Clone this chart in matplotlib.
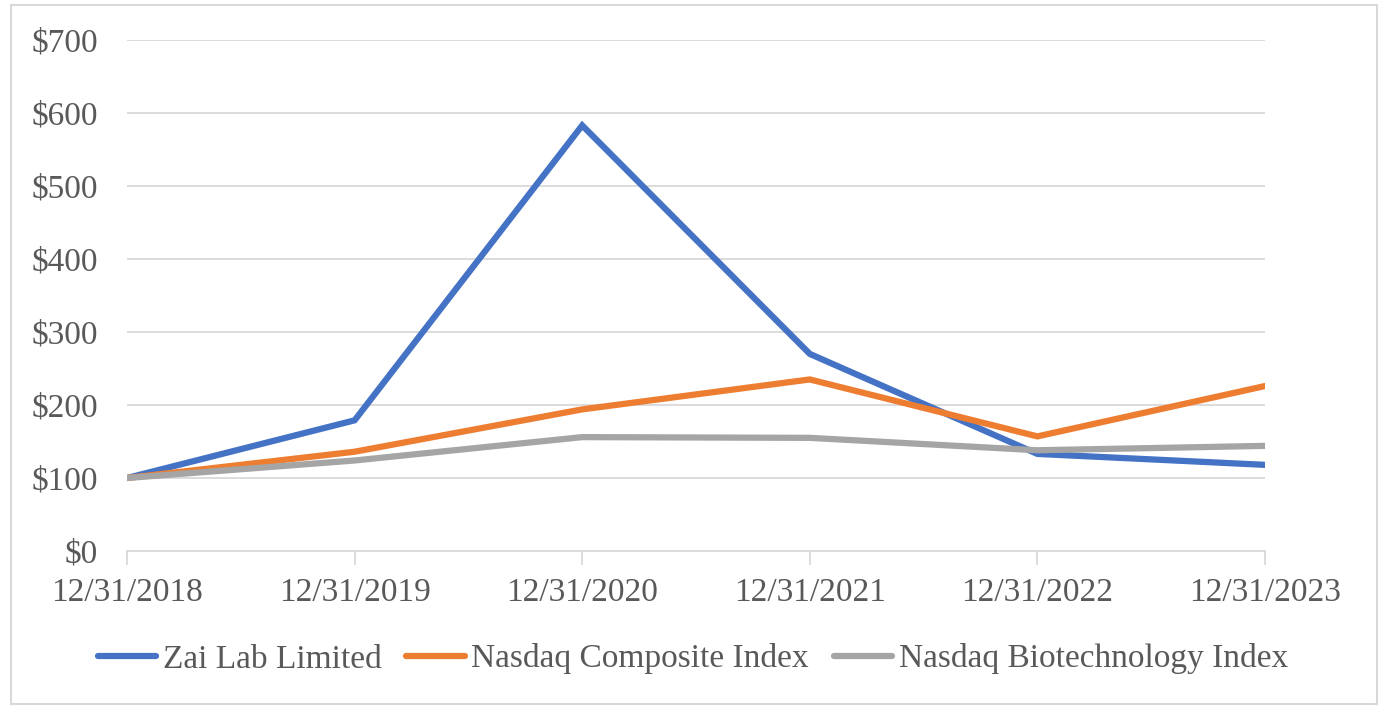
import matplotlib
matplotlib.use("Agg")
import matplotlib.pyplot as plt
from matplotlib.patches import Rectangle

categories = ["12/31/2018", "12/31/2019", "12/31/2020", "12/31/2021", "12/31/2022", "12/31/2023"]
zai_lab = [100, 179, 583, 270, 133, 118]
nasdaq_composite = [100, 136, 194, 235, 157, 226]
nasdaq_biotech = [100, 124, 156, 155, 138, 144]
y_ticks = [0, 100, 200, 300, 400, 500, 600, 700]
y_labels = ["$" + str(v) for v in y_ticks]

series = [
    ("Zai Lab Limited", zai_lab, "#4472C4"),
    ("Nasdaq Composite Index", nasdaq_composite, "#ED7D31"),
    ("Nasdaq Biotechnology Index", nasdaq_biotech, "#A5A5A5"),
]

plt.rcParams['font.family'] = ['Liberation Serif', 'DejaVu Serif']
text_color = "#595959"
grid_color = "#D9D9D9"

fig = plt.figure(figsize=(13.86, 7.16), dpi=100)
fig.patches.append(Rectangle((11/1386, 1-704/716), (1377-11)/1386, (704-5)/716,
                             transform=fig.transFigure, fill=False,
                             edgecolor=grid_color, linewidth=1.5))
ax = fig.add_axes([127/1386, 1-551/716, (1265-127)/1386, (551-40)/716])

x = list(range(len(categories)))
for name, vals, col in series:
    ax.plot(x, vals, color=col, linewidth=4.5, label=name,
            solid_capstyle='round', solid_joinstyle='miter', zorder=3)

ax.set_xlim(0, len(categories) - 1)
ax.set_ylim(0, 700)
ax.set_yticks(y_ticks)
ax.set_yticklabels(y_labels)
ax.set_xticks(x)
ax.set_xticklabels(categories)
ax.yaxis.grid(True, color=grid_color, linewidth=1.3, zorder=0)
for s in ["top", "right", "left"]:
    ax.spines[s].set_visible(False)
ax.spines["bottom"].set_color(grid_color)
ax.spines["bottom"].set_linewidth(1.3)
ax.tick_params(axis='y', length=0, pad=21, labelsize=24, labelcolor=text_color)
ax.tick_params(axis='x', length=10, width=1.3, color=grid_color, pad=9,
               labelsize=24, labelcolor=text_color)

leg = fig.legend(loc='center', bbox_to_anchor=(0.5, 1-659/716), ncol=3,
                 frameon=False, fontsize=24, handlelength=1.75,
                 handletextpad=0.2, columnspacing=0.75)
for t in leg.get_texts():
    t.set_color(text_color)

fig.savefig("out.png", dpi=100)
